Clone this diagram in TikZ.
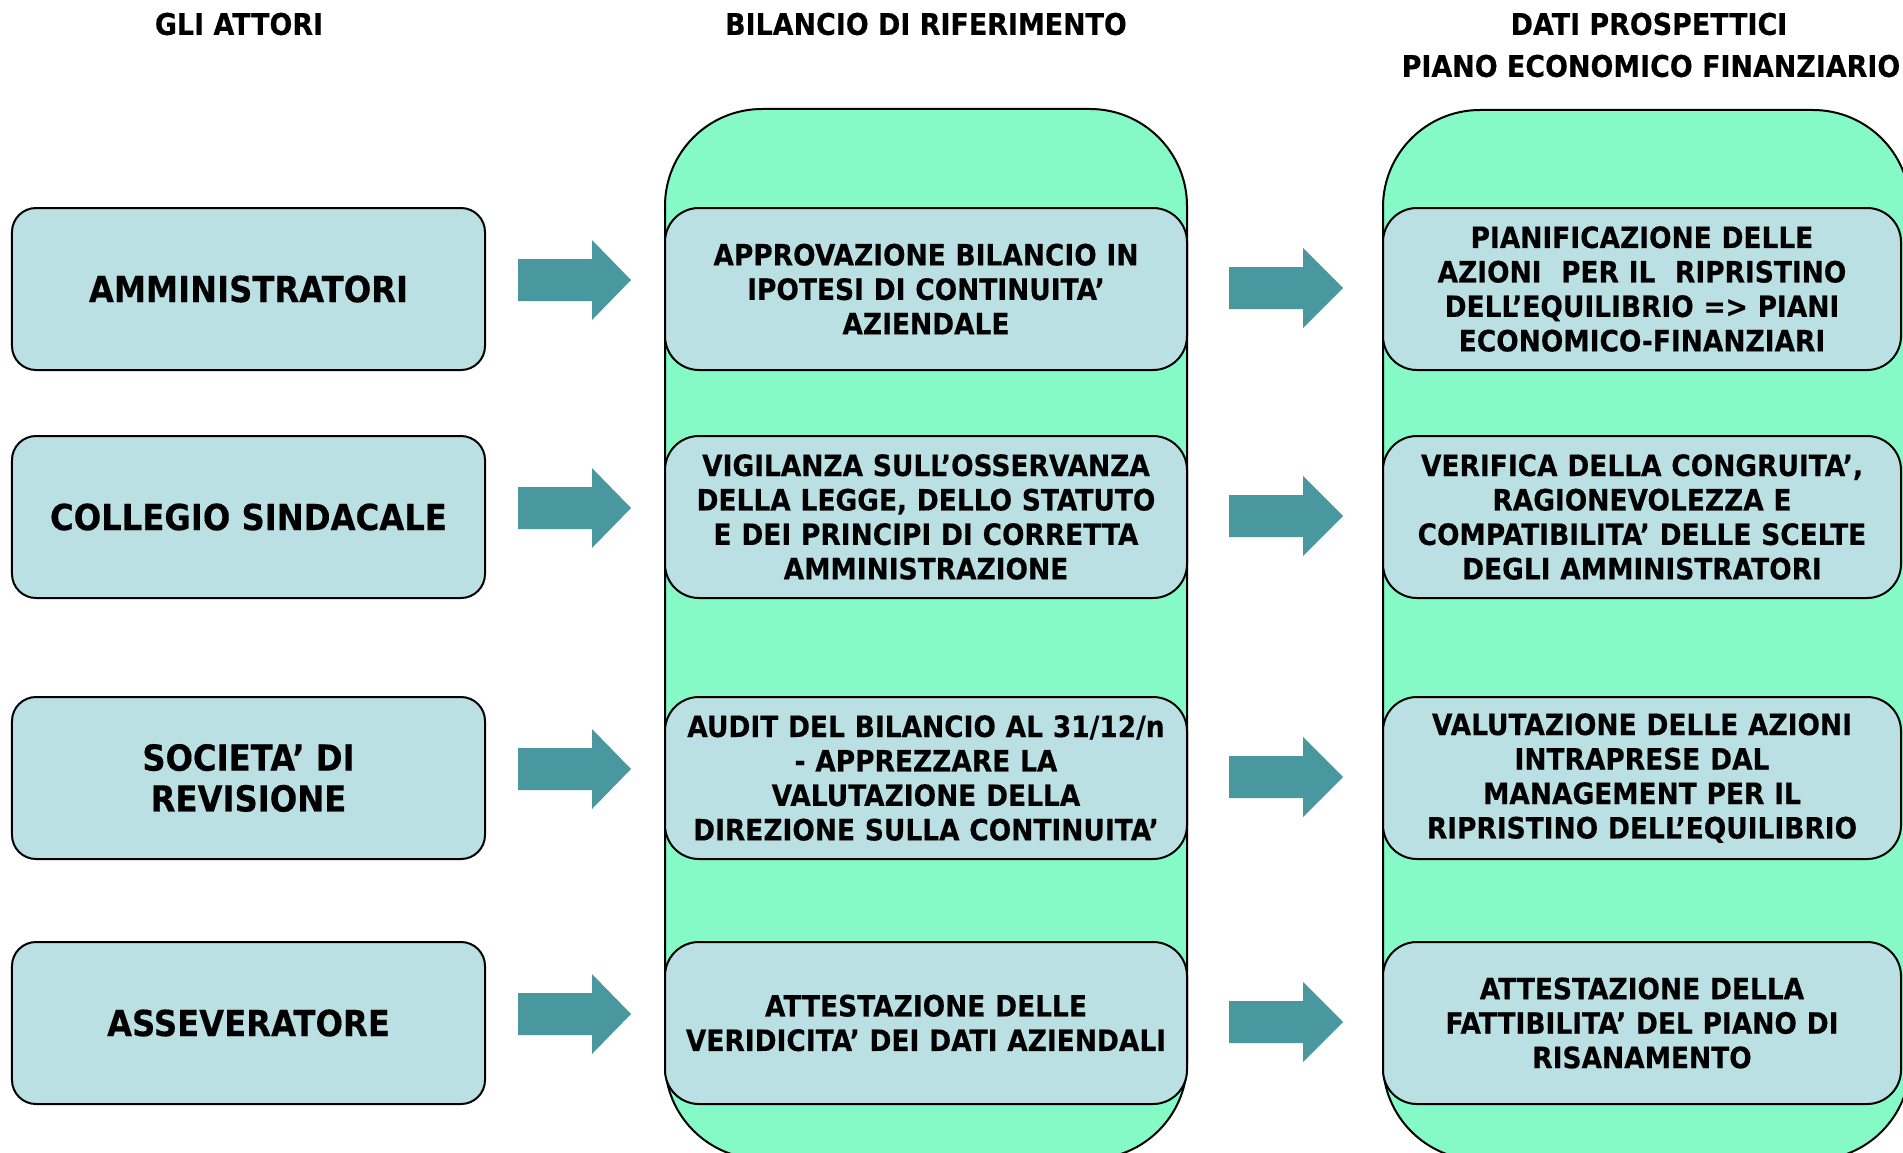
\documentclass[tikz,border=0pt]{standalone}
\usepackage{fontspec}
\setmainfont{DejaVu Sans}[FakeStretch=0.9, BoldFeatures={FakeBold=0.35}]
\definecolor{boxblue}{HTML}{BAE0E3}
\definecolor{mint}{HTML}{85FAC6}
\definecolor{arrowteal}{HTML}{4A989F}
\begin{document}
\begin{tikzpicture}[x=1bp,y=-1bp,
  head/.style={font=\fontsize{30}{34}\selectfont\bfseries, inner sep=0pt},
  actor/.style={draw=black, line width=2bp, fill=boxblue, rounded corners=24bp,
    minimum width=473bp, minimum height=162bp, align=center,
    font=\fontsize{36}{41}\selectfont\bfseries},
  item/.style={draw=black, line width=2bp, fill=boxblue, rounded corners=34bp,
    minimum height=162bp, text width=500bp, align=center,
    font=\fontsize{29.5}{34.6}\selectfont\bfseries},
  column/.style={draw=black, line width=2bp, fill=mint, rounded corners=97bp},
  blockarrow/.style={fill=arrowteal}]
\useasboundingbox (0,0) rectangle (1903,1152);
\clip (0,0) rectangle (1903,1152);

% headers
\node[head] (h1) at (239,24) {GLI ATTORI};
\node[head] (h2) at (926,24) {BILANCIO DI RIFERIMENTO};
\node[head] (h3) at (1649,24) {DATI PROSPETTICI};
\node[head] (h4) at (1651,66) {PIANO ECONOMICO FINANZIARIO};

% columns
\node[column, minimum width=522bp, minimum height=1050bp] (colB) at (926,634) {};
\node[column, minimum width=527bp, minimum height=1050bp] (colC) at (1646.5,635) {};

% actors
\node[actor] (a1) at (248.5,289) {AMMINISTRATORI};
\node[actor] (a2) at (248.5,517) {COLLEGIO SINDACALE};
\node[actor] (a3) at (248.5,778) {SOCIETA’ DI\\REVISIONE};
\node[actor] (a4) at (248.5,1023) {ASSEVERATORE};

% middle items
\node[item, minimum width=522bp] (b1) at (926,289) {APPROVAZIONE BILANCIO IN\\IPOTESI DI CONTINUITA’\\AZIENDALE};
\node[item, minimum width=522bp] (b2) at (926,517) {VIGILANZA SULL’OSSERVANZA\\DELLA LEGGE, DELLO STATUTO\\E DEI PRINCIPI DI CORRETTA\\AMMINISTRAZIONE};
\node[item, minimum width=522bp] (b3) at (926,778) {AUDIT DEL BILANCIO AL 31/12/n\\- APPREZZARE LA\\VALUTAZIONE DELLA\\DIREZIONE SULLA CONTINUITA’};
\node[item, minimum width=522bp] (b4) at (926,1023) {ATTESTAZIONE DELLE\\VERIDICITA’ DEI DATI AZIENDALI};

% right items
\node[item, minimum width=518bp] (c1) at (1642,289) {PIANIFICAZIONE DELLE\\AZIONI \ PER IL \ RIPRISTINO\\DELL’EQUILIBRIO => PIANI\\ECONOMICO-FINANZIARI};
\node[item, minimum width=518bp] (c2) at (1642,517) {VERIFICA DELLA CONGRUITA’,\\RAGIONEVOLEZZA E\\COMPATIBILITA’ DELLE SCELTE\\DEGLI AMMINISTRATORI};
\node[item, minimum width=518bp] (c3) at (1642,778) {VALUTAZIONE DELLE AZIONI\\INTRAPRESE DAL\\MANAGEMENT PER IL\\RIPRISTINO DELL’EQUILIBRIO};
\node[item, minimum width=518bp] (c4) at (1642,1023) {ATTESTAZIONE DELLA\\FATTIBILITA’ DEL PIANO DI\\RISANAMENTO};

% block arrows
\foreach \y in {280,508,769,1014} {
  \fill[blockarrow] (518,\y-21) -- (592,\y-21) -- (592,\y-40) -- (631,\y) -- (592,\y+40) -- (592,\y+21) -- (518,\y+21) -- cycle;
}
\foreach \y in {288,516,777,1022} {
  \fill[blockarrow] (1229,\y-21) -- (1303,\y-21) -- (1303,\y-40) -- (1343,\y) -- (1303,\y+40) -- (1303,\y+21) -- (1229,\y+21) -- cycle;
}
\end{tikzpicture}
\end{document}
